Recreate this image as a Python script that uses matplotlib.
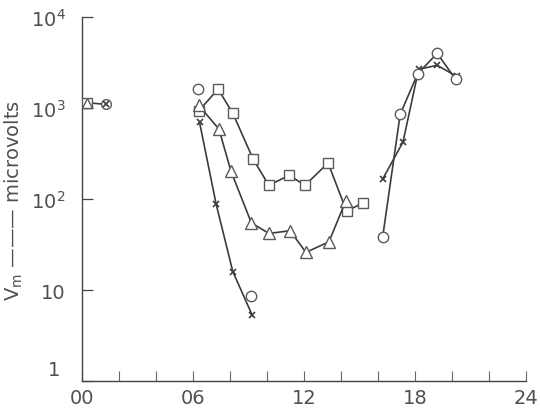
import matplotlib
matplotlib.use("Agg")
import matplotlib.pyplot as plt
import matplotlib.transforms as mtransforms
from matplotlib.ticker import FixedLocator, FixedFormatter, NullLocator

plt.rcParams['font.family'] = ['DejaVu Sans']
plt.rcParams['mathtext.fontset'] = 'dejavusans'

# ---- data (hour of day, microvolts) ----
early_hours = [0.25, 1.3]
early_vals = [1150, 1100]

sq_hours = [6.3, 7.35, 8.15, 9.25, 10.1, 11.2, 12.05, 13.3, 14.3, 15.2]
sq_vals = [930, 1620, 880, 275, 142, 183, 142, 250, 74, 91]

tri_hours = [6.3, 7.4, 8.05, 9.15, 10.1, 11.25, 12.1, 13.35, 14.25]
tri_vals = [1080, 590, 203, 55, 42, 45, 26, 34, 95]

x_am_hours = [6.35, 7.25, 8.15, 9.2]
x_am_vals = [700, 88, 16, 5.3]

x_pm_hours = [16.25, 17.35, 18.2, 19.2, 20.25]
x_pm_vals = [166, 424, 2680, 2960, 2240]

circ_am_hours = [6.25, 9.15]
circ_am_vals = [1620, 8.7]

circ_pm_hours = [16.25, 17.2, 18.15, 19.2, 20.2]
circ_pm_vals = [38, 860, 2400, 4000, 2080]

xticks = [0, 6, 12, 18, 24]
xtick_labels = ['00', '06', '12', '18', '24']
yticks = [1, 10, 100, 1000, 10000]
ytick_labels = ['1', '10', '$10^2$', '$10^3$', '$10^4$']

line_c = '#3c3c3c'
edge_c = '#5a5a5a'
txt_c = '#505050'

fig = plt.figure(figsize=(5.4, 4.14), dpi=100)
ax = fig.add_axes([0.152, 0.077, 0.822, 0.879])
ax.set_yscale('log')
ax.set_xlim(0, 24)
ax.set_ylim(1, 10000)

lkw = dict(color=line_c, lw=1.2)
mkw = dict(mfc='white', mec=edge_c, mew=1.0)

# early cluster
ax.plot(early_hours, early_vals, marker='o', ms=7, **lkw, **mkw, zorder=3)
ax.plot(early_hours, early_vals, marker='x', ms=5, ls='none', color=line_c, mew=1.2, zorder=4)
ax.plot(early_hours[:1], early_vals[:1], marker='s', ms=7, ls='none', **mkw, zorder=4)
ax.plot(early_hours[:1], early_vals[:1], marker='^', ms=7, ls='none', **mkw, zorder=4)

ax.plot(x_am_hours, x_am_vals, marker='x', ms=5, color=line_c, lw=1.2, mew=1.2, zorder=2)
ax.plot(x_pm_hours, x_pm_vals, marker='x', ms=5, color=line_c, lw=1.2, mew=1.2, zorder=2)
ax.plot(sq_hours, sq_vals, marker='s', ms=7.5, **lkw, **mkw, zorder=3)
ax.plot(tri_hours, tri_vals, marker='^', ms=8, **lkw, **mkw, zorder=3)
ax.plot(circ_am_hours, circ_am_vals, marker='o', ms=7.5, ls='none', **mkw, zorder=3)
ax.plot(circ_pm_hours, circ_pm_vals, marker='o', ms=7.5, **lkw, **mkw, zorder=3)

for s in ['top', 'right']:
    ax.spines[s].set_visible(False)
for s in ['left', 'bottom']:
    ax.spines[s].set_color('#444444')
    ax.spines[s].set_linewidth(1.0)

ax.xaxis.set_major_locator(FixedLocator(list(range(0, 25, 2))))
ax.xaxis.set_major_formatter(FixedFormatter(
    [xtick_labels[xticks.index(h)] if h in xticks else '' for h in range(0, 25, 2)]))
ax.yaxis.set_major_locator(FixedLocator(yticks))
ax.yaxis.set_major_formatter(FixedFormatter(ytick_labels))
ax.yaxis.set_minor_locator(NullLocator())

ax.tick_params(axis='x', direction='in', length=7, width=0.8, color='#666666',
               labelsize=14, labelcolor=txt_c, pad=5)
ax.tick_params(axis='y', direction='in', length=8, width=0.9, color='#444444',
               labelsize=14, labelcolor=txt_c, pad=12)

# the "1" label sits slightly up and to the left, as in the reference
fig.canvas.draw()
lbl1 = ax.yaxis.get_majorticklabels()[0]
lbl1.set_transform(lbl1.get_transform() +
                   mtransforms.ScaledTranslation(-4 / 72, 10 / 72, fig.dpi_scale_trans))

ax.set_ylabel('V$_\\mathrm{m}$ \u2014\u2014\u2014 microvolts', fontsize=14, color=txt_c, labelpad=4)

fig.savefig('out.png', dpi=100)
